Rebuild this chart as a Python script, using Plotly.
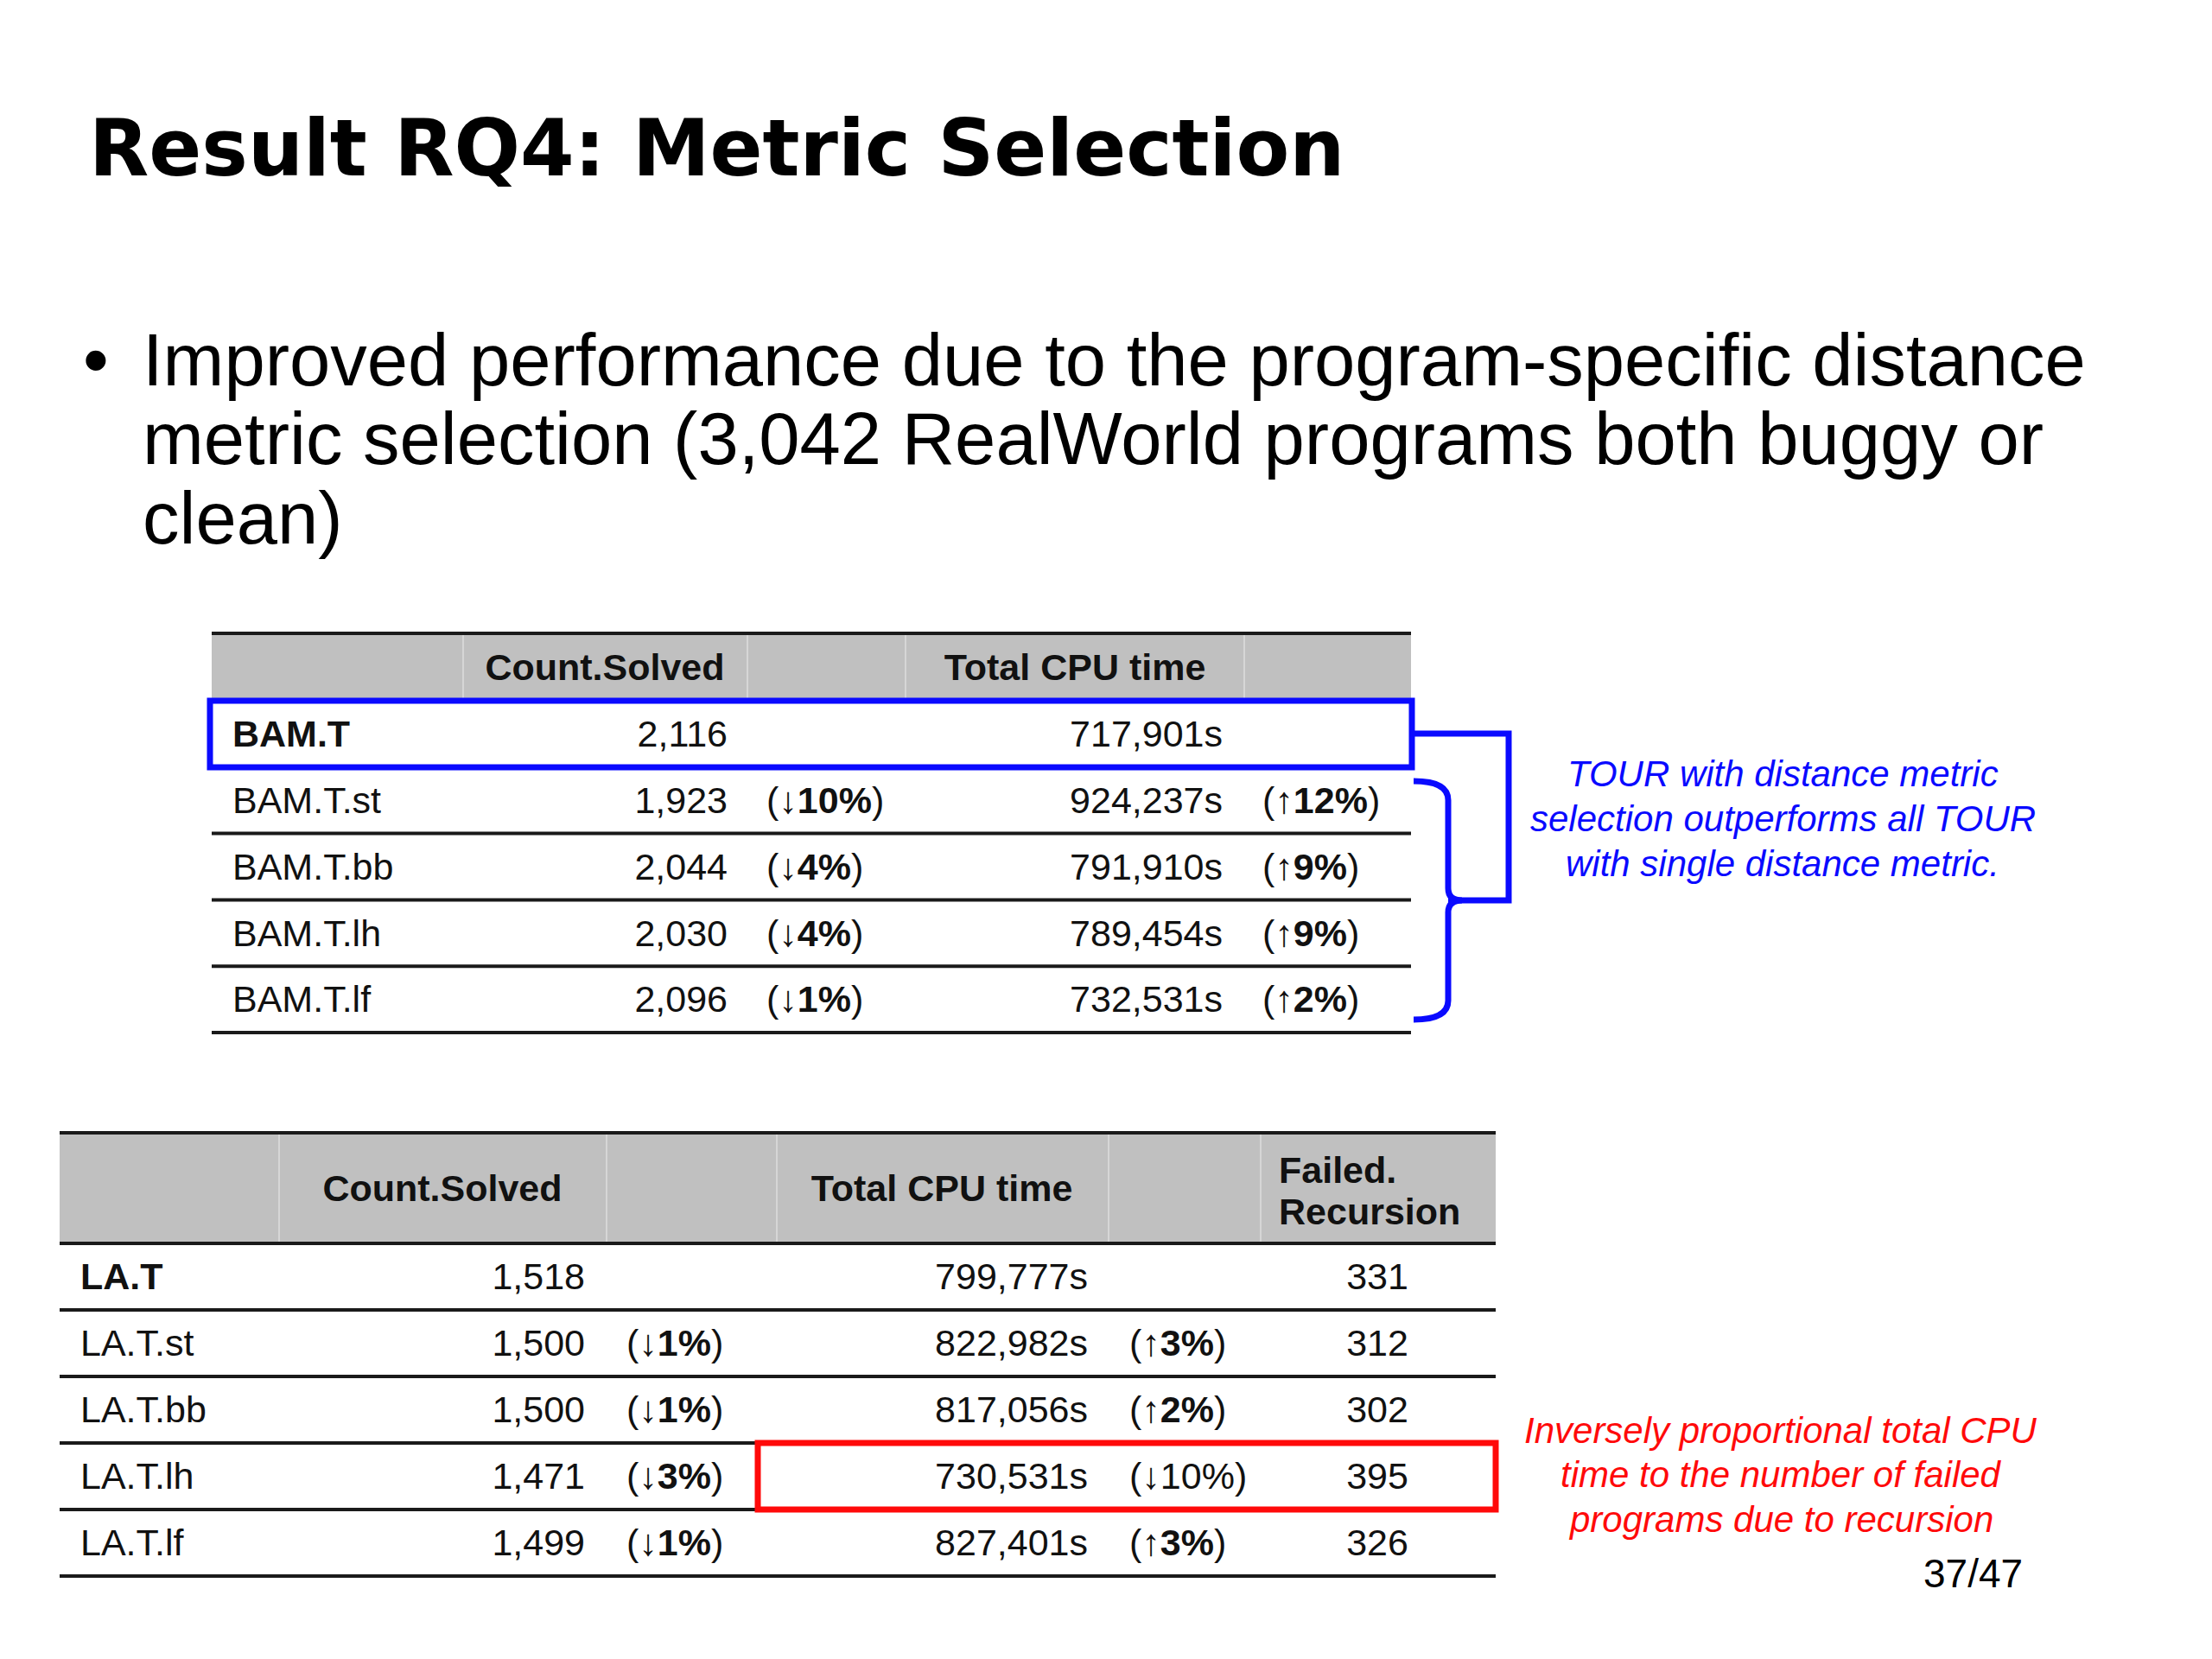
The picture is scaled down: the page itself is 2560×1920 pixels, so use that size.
import plotly.graph_objects as go

# datos de la tabla de arriba (BAM)
bam_nombres = ["BAM.T", "BAM.T.st", "BAM.T.bb", "BAM.T.lh", "BAM.T.lf"]
bam_resueltos = [2116, 1923, 2044, 2030, 2096]
bam_resueltos_pct = [None, -10, -4, -4, -1]
bam_cpu = [717901, 924237, 791910, 789454, 732531]
bam_cpu_pct = [None, 12, 9, 9, 2]

# datos de la tabla de abajo (LA)
la_nombres = ["LA.T", "LA.T.st", "LA.T.bb", "LA.T.lh", "LA.T.lf"]
la_resueltos = [1518, 1500, 1500, 1471, 1499]
la_resueltos_pct = [None, -1, -1, -3, -1]
la_cpu = [799777, 822982, 817056, 730531, 827401]
la_cpu_pct = [None, 3, 2, -10, 3]
la_fallados = [331, 312, 302, 395, 326]

titulo = "Result RQ4: Metric Selection"
bullet = ["Improved performance due to the program-specific distance",
          "metric selection (3,042 RealWorld programs both buggy or",
          "clean)"]
nota_azul = ["TOUR with distance metric", "selection outperforms all TOUR", "with single distance metric."]
nota_roja = ["Inversely proportional total CPU", "time to the number of failed", "programs due to recursion"]
pagina = "37/47"

fuente = "Liberation Sans, Arial, sans-serif"
azul = "#0a0aff"
rojo = "#ff0a0a"
fila_roja = 3  # la fila de LA que va dentro del recuadro rojo


def pct(v, negrita=True):
    if v is None:
        return ""
    flecha = "↓" if v < 0 else "↑"
    num = f"{abs(v)}%"
    if negrita:
        num = f"<b>{num}</b>"
    return f"({flecha}{num})"


fig = go.Figure()


def dibujar_tabla(x0, x1, y_arriba, y_enc, alto, divisores):
    #fondo gris del encabezado
    fig.add_shape(type="rect", x0=x0, x1=x1, y0=y_arriba, y1=y_enc, fillcolor="#c0c0c0", line_width=0, layer="below")
    for d in divisores:
        fig.add_shape(type="line", x0=d, x1=d, y0=y_arriba, y1=y_enc, line=dict(color="#d6d6d6", width=2))
    #lineas horizontales
    for k in range(7):
        y = y_arriba if k == 0 else y_enc + (k - 1) * alto
        fig.add_shape(type="line", x0=x0, x1=x1, y0=y, y1=y, line=dict(color="#1a1a1a", width=4))
    return [y_enc + (i + 0.5) * alto for i in range(5)]


def columna(xs, ys, textos, pos, size=43, color="#111111"):
    #el texto queda un poco alto, lo bajo 4px
    fig.add_trace(go.Scatter(
        x=[xs] * len(ys), y=[y + 4 for y in ys], text=textos, mode="text", textposition=pos,
        textfont=dict(family=fuente, size=size, color=color),
        hoverinfo="skip", cliponaxis=False))


# tabla BAM
filas = dibujar_tabla(245, 1633, 733, 811, 76.8, [536, 865, 1048, 1440])
y_enc = (733 + 811) / 2
columna(700, [y_enc], ["<b>Count.Solved</b>"], "middle center")
columna(1244, [y_enc], ["<b>Total CPU time</b>"], "middle center")
columna(269, filas, ["<b>" + n + "</b>" if i == 0 else n for i, n in enumerate(bam_nombres)], "middle right")
columna(842, filas, [f"{v:,}" for v in bam_resueltos], "middle left")
columna(887, filas, [pct(v) for v in bam_resueltos_pct], "middle right")
columna(1415, filas, [f"{v:,}s" for v in bam_cpu], "middle left")
columna(1461, filas, [pct(v) for v in bam_cpu_pct], "middle right")

# recuadro azul sobre BAM.T
fig.add_shape(type="rect", x0=243, x1=1634, y0=811, y1=888, line=dict(color=azul, width=7))
# llave y conector azul
fig.add_shape(type="path", path="M 1634,849 L 1746,849 L 1746,1042 L 1676,1042", line=dict(color=azul, width=7))
fig.add_shape(type="path",
              path="M 1636,904 Q 1676,904 1676,926 L 1676,1028 Q 1676,1042 1692,1042 "
                   "Q 1676,1042 1676,1056 L 1676,1158 Q 1676,1180 1636,1180",
              line=dict(color=azul, width=7))

# tabla LA
filas = dibujar_tabla(69, 1731, 1311, 1439, 77, [323, 702, 899, 1283, 1459])
y_enc = (1311 + 1439) / 2
columna(512, [y_enc], ["<b>Count.Solved</b>"], "middle center")
columna(1090, [y_enc], ["<b>Total CPU time</b>"], "middle center")
columna(1480, [1354, 1402], ["<b>Failed.</b>", "<b>Recursion</b>"], "middle right")
columna(93, filas, ["<b>" + n + "</b>" if i == 0 else n for i, n in enumerate(la_nombres)], "middle right")
columna(677, filas, [f"{v:,}" for v in la_resueltos], "middle left")
columna(725, filas, [pct(v) for v in la_resueltos_pct], "middle right")
columna(1259, filas, [f"{v:,}s" for v in la_cpu], "middle left")
columna(1307, filas, [pct(v, i != fila_roja) for i, v in enumerate(la_cpu_pct)], "middle right")
columna(1594, filas, [str(v) for v in la_fallados], "middle center")

# recuadro rojo en LA.T.lh
fig.add_shape(type="rect", x0=877, x1=1731, y0=1439 + fila_roja * 77, y1=1439 + (fila_roja + 1) * 77,
              line=dict(color=rojo, width=7))

# titulo y texto
fig.add_annotation(x=101, y=171, text="<b>" + titulo + "</b>", showarrow=False, xanchor="left", yanchor="middle",
                   font=dict(family="DejaVu Sans", size=90, color="black"))
fig.add_annotation(x=111, y=416, text="•", showarrow=False, xanchor="center", yanchor="middle",
                   font=dict(family=fuente, size=85, color="black"))
for i, linea in enumerate(bullet):
    fig.add_annotation(x=163, y=416 + i * 91.5, text=linea, showarrow=False, xanchor="left", yanchor="middle",
                       font=dict(family=fuente, size=85, color="black"))
for i, linea in enumerate(nota_azul):
    fig.add_annotation(x=2063, y=895 + i * 52, text="<i>" + linea + "</i>", showarrow=False,
                       xanchor="center", yanchor="middle", font=dict(family=fuente, size=42, color=azul))
for i, linea in enumerate(nota_roja):
    fig.add_annotation(x=2061, y=1655 + i * 51.5, text="<i>" + linea + "</i>", showarrow=False,
                       xanchor="center", yanchor="middle", font=dict(family=fuente, size=42, color=rojo))
fig.add_annotation(x=2283, y=1821, text=pagina, showarrow=False, xanchor="center", yanchor="middle",
                   font=dict(family=fuente, size=46, color="black"))

# el navegador deja 8px de margen en la pagina, corro los ejes para compensar
fig.update_layout(
    width=2560, height=1920, margin=dict(l=0, r=0, t=0, b=0),
    paper_bgcolor="white", plot_bgcolor="white", showlegend=False,
    xaxis=dict(range=[8, 2568], visible=False, fixedrange=True),
    yaxis=dict(range=[1928, 8], visible=False, fixedrange=True),
)

fig.write_html("out.html")
